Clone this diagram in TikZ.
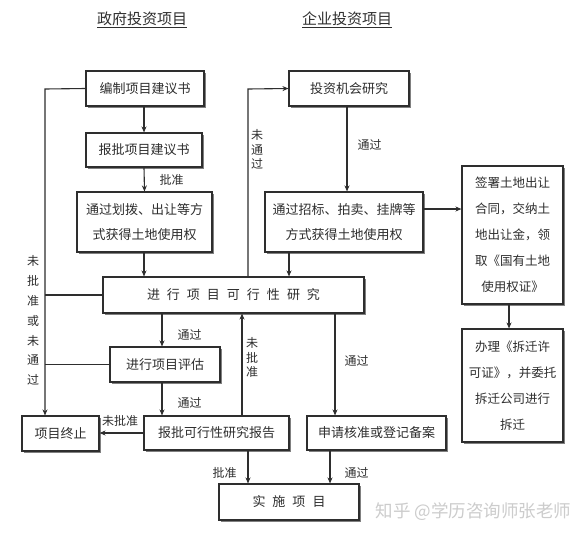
\documentclass[tikz,border=0pt]{standalone}
\usepackage{fontspec}
\setmainfont{Noto Sans CJK SC}
\usetikzlibrary{arrows.meta,shadows}
\definecolor{ink}{HTML}{2E2E2E}
\tikzset{
  box/.style={draw=ink, line width=1.1pt, fill=white, inner sep=0pt, align=center,
    text=ink, font=\fontsize{13pt}{25pt}\selectfont,
    drop shadow={shadow xshift=2.2pt, shadow yshift=-2.2pt, fill=black!55, opacity=.9}},
  conn/.style={draw=ink, line width=1.1pt},
  arr/.style={conn, -{Stealth[length=6pt,width=5pt]}},
  lbl/.style={text=ink, font=\fontsize{12pt}{14pt}\selectfont, inner sep=0pt},
  vlbl/.style={text=ink, align=center, inner sep=0pt},
  ttl/.style={text=ink, font=\fontsize{15pt}{18pt}\selectfont, inner sep=0pt}
}
\begin{document}
\begin{tikzpicture}[x=1pt,y=-1pt]
\useasboundingbox[fill=white] (0,0) rectangle (585,536);
% titles
\node[ttl] (t1) at (142,20) {\underline{政府投资项目}};
\node[ttl] (t2) at (347,20) {\underline{企业投资项目}};
% boxes
\node[box, minimum width=118pt, minimum height=35pt] (b1) at (145,88.5) {编制项目建议书};
\node[box, minimum width=116pt, minimum height=34pt] (b2) at (144,150) {报批项目建议书};
\node[box, minimum width=135pt, minimum height=60pt] (b3) at (144.5,222) {通过划拨、出让等方\\式获得土地使用权};
\node[box, minimum width=120pt, minimum height=35pt] (e1) at (349,88.5) {投资机会研究};
\node[box, minimum width=158pt, minimum height=60pt] (e2) at (344,222) {通过招标、拍卖、挂牌等\\方式获得土地使用权};
\node[box, minimum width=101pt, minimum height=138pt, font=\fontsize{12.5pt}{26pt}\selectfont] (r1) at (512.5,235) {签署土地出让\\合同，交纳土\\地出让金，领\\取《国有土地\\使用权证》};
\node[box, minimum width=101pt, minimum height=113pt, font=\fontsize{12.5pt}{26pt}\selectfont] (r2) at (512.5,385.5) {办理《拆迁许\\可证》，并委托\\拆迁公司进行\\拆迁};
\node[box, minimum width=261pt, minimum height=36pt] (big) at (233.5,295) {进\hspace{7pt}行\hspace{7pt}项\hspace{7pt}目\hspace{7pt}可\hspace{7pt}行\hspace{7pt}性\hspace{7pt}研\hspace{7pt}究};
\node[box, minimum width=110pt, minimum height=35pt] (pg) at (165,364.5) {进行项目评估};
\node[box, minimum width=77pt, minimum height=35pt] (stop) at (60.5,433.5) {项目终止};
\node[box, minimum width=145pt, minimum height=34pt] (rep) at (216.5,433) {报批可行性研究报告};
\node[box, minimum width=139pt, minimum height=34pt] (app) at (376.5,433) {申请核准或登记备案};
\node[box, minimum width=140pt, minimum height=36pt] (impl) at (289,502) {实\hspace{7pt}施\hspace{7pt}项\hspace{7pt}目};
% helper coordinates
\coordinate (lc) at (45,89);
\coordinate (uc) at (248,89);
% government column
\draw[arr] (b2.north |- b1.south) -- (b2.north);
\draw[arr] (b2.south) -- (b3.north);
\node[lbl] at (171.5,180) {批准};
\draw[arr] (b3.south -| b2.south) -- (b2.south |- big.north);
% left rejection line
\draw[arr] (b1.west) -- (lc) -- (lc |- stop.north);
\draw[conn] (big.west) -- (lc |- big.west);
\draw[conn] (pg.west) -- (lc |- pg.west);
\node[vlbl, font=\fontsize{12pt}{19.8pt}\selectfont] at (33,320.5) {未\\批\\准\\或\\未\\通\\过};
% enterprise column
\draw[arr] (uc |- big.north) -- (uc) -- (e1.west);
\node[vlbl, font=\fontsize{12pt}{14.5pt}\selectfont] at (257,149.5) {未\\通\\过};
\draw[arr] ([xshift=-2pt]e1.south) -- ([xshift=-2pt]e1.south |- e2.north);
\node[lbl] at (369.5,145) {通过};
\draw[arr] ([xshift=-55pt]e2.south) -- ([xshift=-55pt]e2.south |- big.north);
\draw[arr] ([yshift=13pt]e2.east) -- ([yshift=13pt]e2.east -| r1.west);
\draw[arr] ([xshift=-3.5pt]r1.south) -- ([xshift=-3.5pt]r2.north);
% below feasibility
\draw[arr] (big.south -| 162,0) -- (pg.north -| 162,0);
\node[lbl] at (189.5,335) {通过};
\draw[arr] (pg.south -| 162,0) -- (rep.north -| 162,0);
\node[lbl] at (189.5,403) {通过};
\draw[arr] (rep.north -| 242,0) -- (big.south -| 242,0);
\node[vlbl, font=\fontsize{12pt}{14.5pt}\selectfont] at (252,357.5) {未\\批\\准};
\draw[arr] (rep.west) -- (stop.east |- rep.west);
\node[lbl] at (120,421) {未批准};
\draw[arr] (rep.south -| 248,0) -- (impl.north -| 248,0);
\node[lbl] at (224.5,473) {批准};
\draw[arr] (big.south -| 335,0) -- (app.north -| 335,0);
\node[lbl] at (356.5,361) {通过};
\draw[arr] (app.south -| 330,0) -- (impl.north -| 330,0);
\node[lbl] at (356.5,473) {通过};
% watermark
\node[text=black!20, font=\fontsize{17.5pt}{20pt}\selectfont, inner sep=0pt] (wm) at (473.5,512) {知乎 @学历咨询师张老师};
\end{tikzpicture}
\end{document}
